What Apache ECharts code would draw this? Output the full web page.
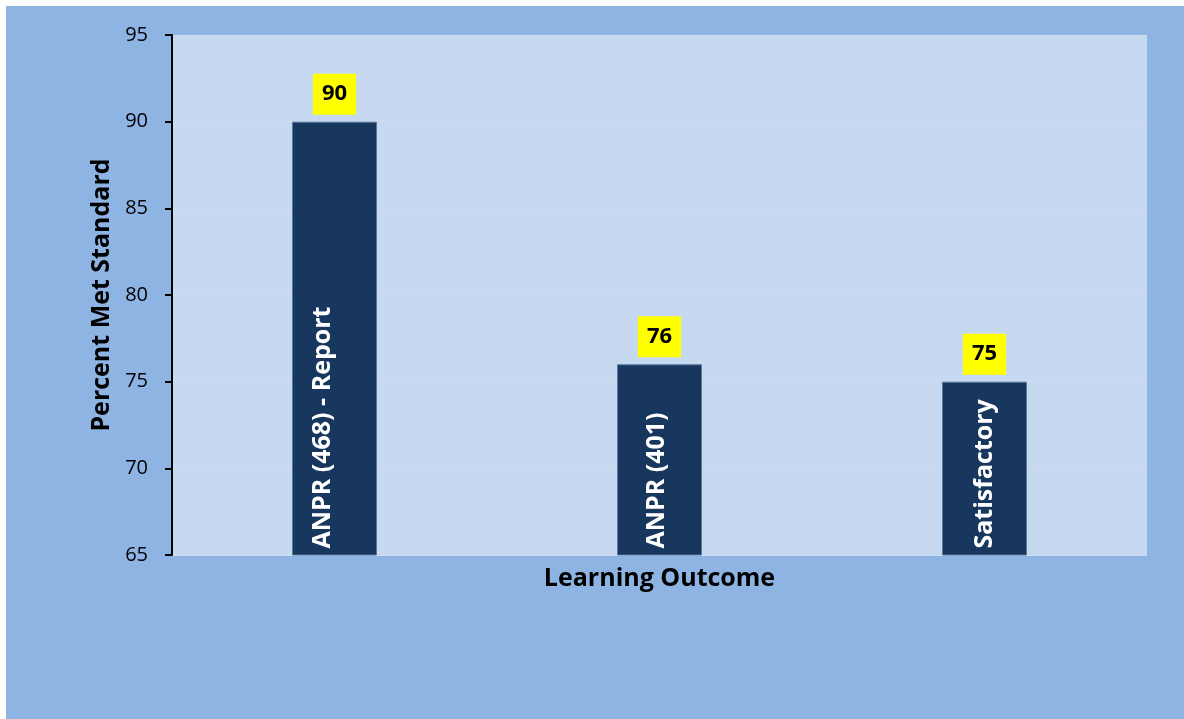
<!DOCTYPE html>
<html>
<head>
<meta charset="utf-8">
<script src="https://cdn.jsdelivr.net/npm/echarts@6/dist/echarts.min.js"></script>
<style>
  html, body { margin: 0; padding: 0; background: #ffffff; }
  #chart { position: absolute; left: 6px; top: 6px; width: 1178px; height: 713px; }
</style>
</head>
<body>
<div id="chart"></div>
<script>
const categories = ['ANPR (468) - Report', 'ANPR (401)', 'Satisfactory'];
const values = [90, 76, 75];
const yTicks = { min: 65, max: 95, interval: 5 };

const FONT = '"Open Sans", "Noto Sans", sans-serif';
// offsets in the rotated label frame: second component moves the text sideways
const labelOffsets = [[0, -12], [0, -3], [0, 0]];

const chart = echarts.init(document.getElementById('chart'));
chart.setOption({
  backgroundColor: '#8EB4E3',
  animation: false,
  grid: {
    left: 166, top: 29, right: 37, bottom: 164,
    show: true, backgroundColor: '#C6D9F1', borderWidth: 0
  },
  xAxis: {
    type: 'category',
    data: categories,
    name: 'Learning Outcome',
    nameLocation: 'middle',
    nameGap: 11,
    nameTextStyle: { fontFamily: FONT, fontWeight: 'bold', fontSize: 25, color: '#000' },
    axisLine: { show: false },
    axisTick: { show: false },
    axisLabel: { show: false },
    splitLine: { show: false }
  },
  yAxis: {
    type: 'value',
    min: yTicks.min, max: yTicks.max, interval: yTicks.interval,
    name: 'Percent Met Standard',
    nameLocation: 'middle',
    nameGap: 57,
    nameRotate: 90,
    nameTextStyle: { fontFamily: FONT, fontWeight: 'bold', fontSize: 25, color: '#000' },
    axisLine: { show: true, lineStyle: { color: '#000', width: 2 } },
    axisTick: { show: true, length: 7, lineStyle: { color: '#000', width: 2 } },
    axisLabel: { fontFamily: FONT, fontSize: 20, color: '#000', margin: 24 },
    splitLine: { show: true, lineStyle: { color: '#CEDCF1', width: 1 } }
  },
  series: [
    {
      type: 'bar',
      data: values.map((v, i) => ({ value: v, label: { offset: labelOffsets[i] } })),
      barWidth: 85,
      barGap: '-100%',
      itemStyle: { color: '#17375E', borderColor: '#5A7699', borderWidth: 1 },
      label: {
        show: true,
        position: 'insideBottom',
        rotate: 90,
        align: 'left',
        verticalAlign: 'middle',
        distance: 7,
        formatter: '{b}',
        fontFamily: FONT,
        fontWeight: 'bold',
        fontSize: 25,
        color: '#ffffff'
      },
      z: 2
    },
    {
      type: 'bar',
      data: values,
      barWidth: 85,
      barGap: '-100%',
      itemStyle: { color: 'rgba(0,0,0,0)' },
      label: {
        show: true,
        position: 'top',
        distance: 7,
        formatter: '{c}',
        fontFamily: FONT,
        fontWeight: 'bold',
        fontSize: 22,
        lineHeight: 25,
        color: '#000',
        backgroundColor: '#FFFF00',
        padding: [8, 9, 8, 9]
      },
      z: 3
    }
  ]
});
</script>
</body>
</html>
